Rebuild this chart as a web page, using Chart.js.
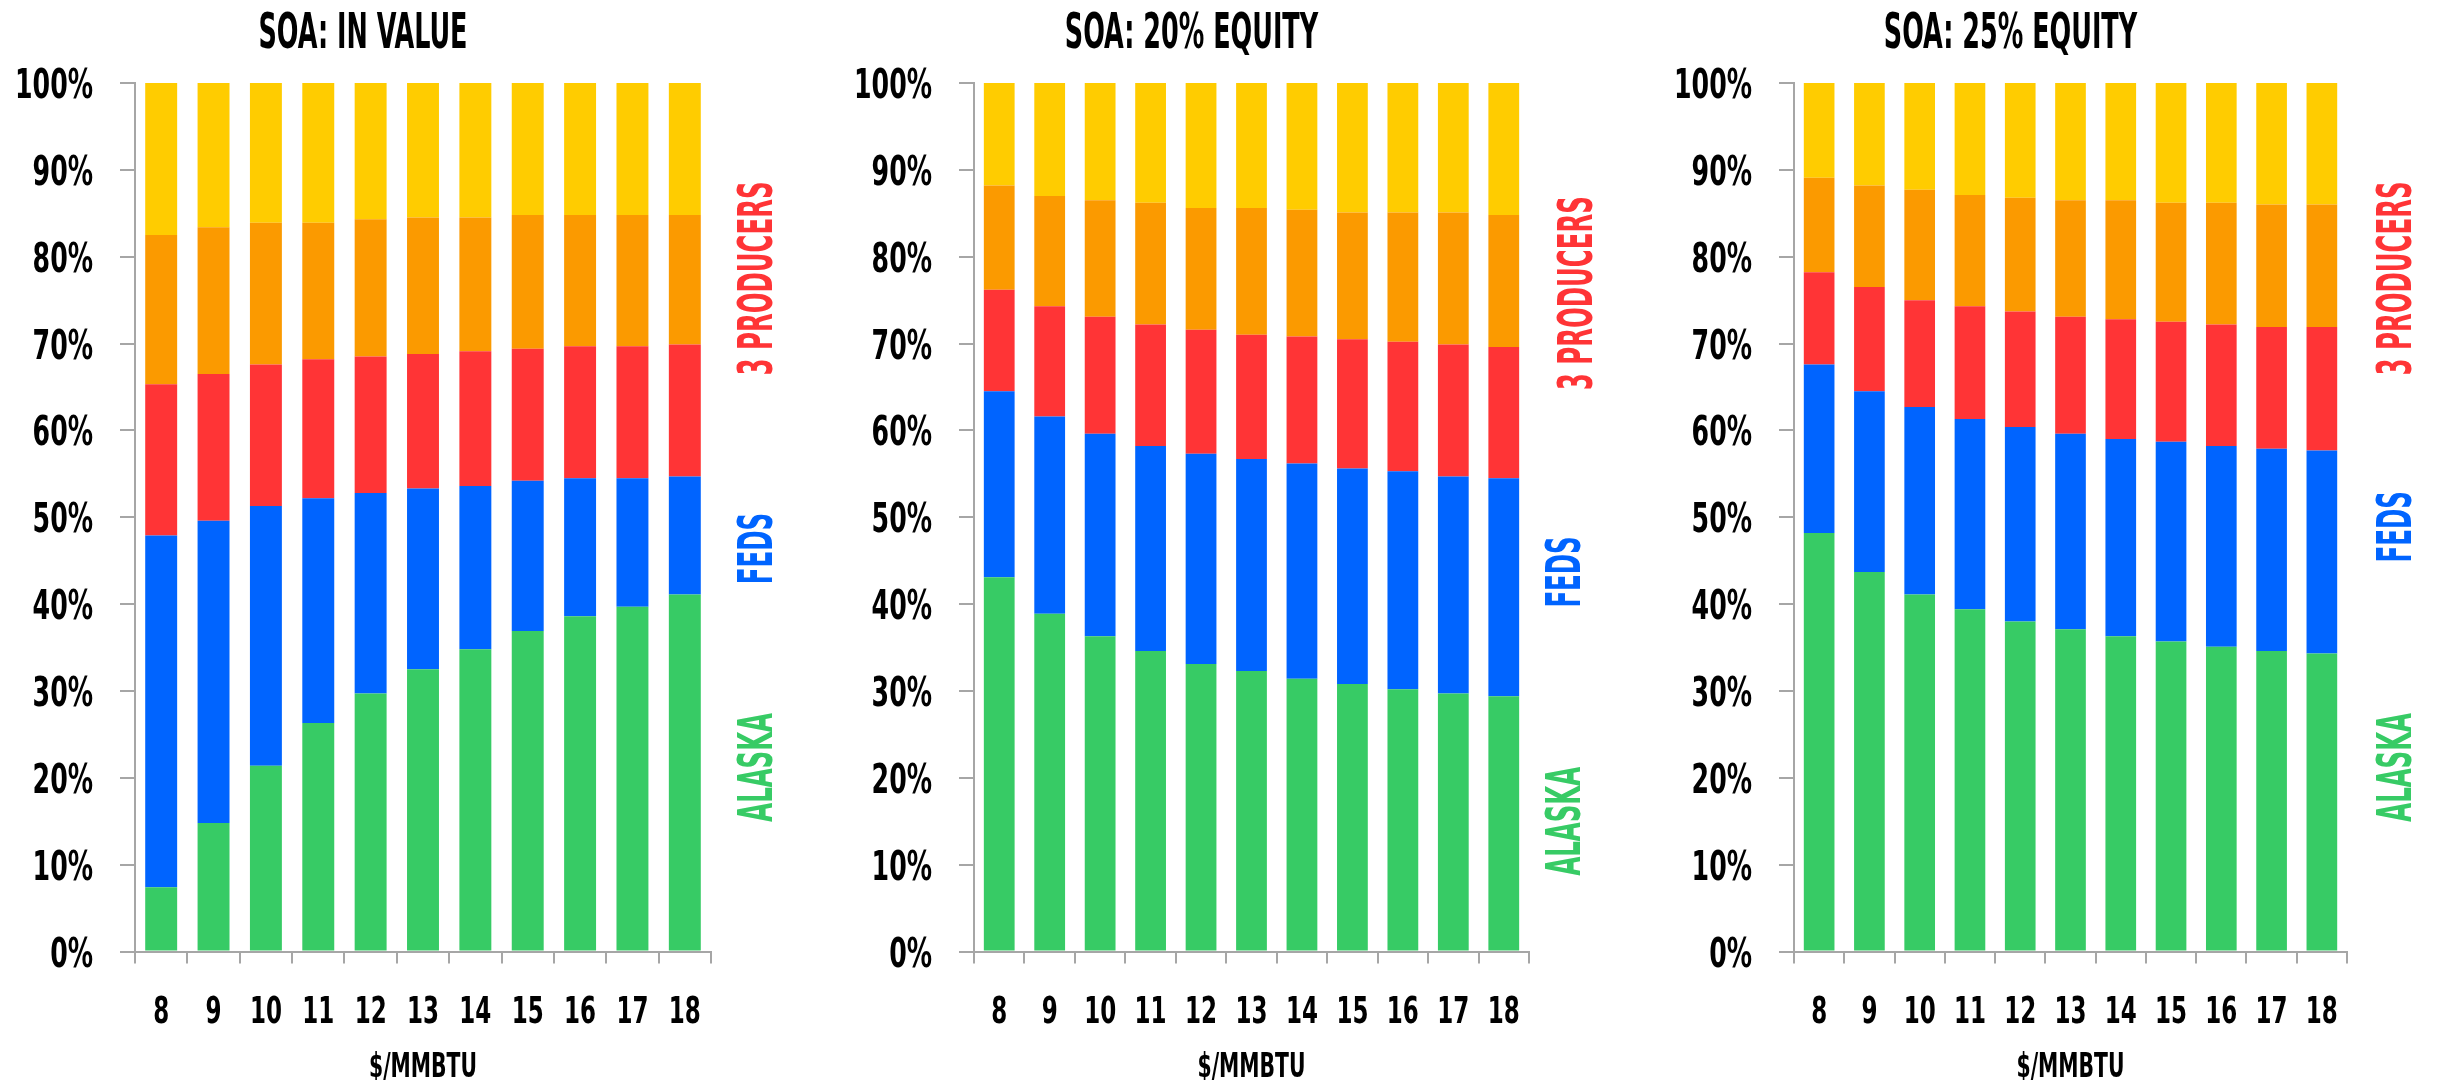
<!DOCTYPE html>
<html>
<head>
<meta charset="utf-8">
<script src="https://cdn.jsdelivr.net/npm/chart.js@4.4.1/dist/chart.umd.min.js"></script>
<style>
    html, body { margin: 0; padding: 0; background: #fff; }
    #wrap { position: relative; width: 2438px; height: 1080px; overflow: hidden; }
    canvas { position: absolute; top: 0; }
</style>
</head>
<body>
<div id="wrap">
    <canvas id="chart-value" width="812" height="1080" style="left:0px"></canvas>
    <canvas id="chart-eq20" width="818" height="1080" style="left:812px"></canvas>
    <canvas id="chart-eq25" width="808" height="1080" style="left:1630px"></canvas>
</div>
<script>
'use strict';

var prices = ['8', '9', '10', '11', '12', '13', '14', '15', '16', '17', '18'];
var seriesNames = ['Alaska', 'Feds', 'Producer 1', 'Producer 2', 'Producer 3'];
var seriesColors = ['#37cb65', '#0064ff', '#ff3436', '#fb9a00', '#ffcc00'];
var panelTitles = ['SOA: IN VALUE', 'SOA: 20% EQUITY', 'SOA: 25% EQUITY'];
var sideLabels = ['3 PRODUCERS', 'FEDS', 'ALASKA'];
var sideColors = ['#ff3436', '#0064ff', '#37cb65'];
var xAxisTitle = '$/MMBTU';

var valueAlaska = [7.4, 14.8, 21.4, 26.3, 29.7, 32.5, 34.8, 36.9, 38.6, 39.7, 41.1];
var valueFeds = [40.5, 34.8, 29.9, 25.9, 23.1, 20.8, 18.8, 17.3, 15.9, 14.8, 13.6];
var valueProd1 = [17.4, 16.9, 16.3, 16.0, 15.7, 15.5, 15.5, 15.2, 15.2, 15.2, 15.2];
var valueProd2 = [17.2, 16.9, 16.3, 15.7, 15.8, 15.7, 15.4, 15.4, 15.1, 15.1, 14.9];
var valueProd3 = [17.5, 16.6, 16.1, 16.1, 15.7, 15.5, 15.5, 15.2, 15.2, 15.2, 15.2];

var eq20Alaska = [43.1, 38.9, 36.3, 34.6, 33.1, 32.3, 31.4, 30.8, 30.2, 29.7, 29.4];
var eq20Feds = [21.4, 22.7, 23.3, 23.6, 24.2, 24.4, 24.8, 24.8, 25.1, 25.0, 25.1];
var eq20Prod1 = [11.7, 12.7, 13.5, 14.0, 14.3, 14.3, 14.6, 14.9, 14.9, 15.2, 15.1];
var eq20Prod2 = [12.0, 12.7, 13.4, 14.0, 14.0, 14.6, 14.6, 14.6, 14.9, 15.2, 15.2];
var eq20Prod3 = [11.8, 13.0, 13.5, 13.8, 14.4, 14.4, 14.6, 14.9, 14.9, 14.9, 15.2];

var eq25Alaska = [48.2, 43.7, 41.1, 39.4, 38.0, 37.1, 36.3, 35.7, 35.1, 34.6, 34.3];
var eq25Feds = [19.4, 20.8, 21.6, 21.9, 22.4, 22.5, 22.7, 23.0, 23.1, 23.3, 23.4];
var eq25Prod1 = [10.6, 12.0, 12.3, 13.0, 13.3, 13.5, 13.8, 13.8, 14.0, 14.0, 14.2];
var eq25Prod2 = [10.9, 11.7, 12.7, 12.8, 13.1, 13.4, 13.7, 13.7, 14.0, 14.1, 14.1];
var eq25Prod3 = [10.9, 11.8, 12.3, 12.9, 13.2, 13.5, 13.5, 13.8, 13.8, 14.0, 14.0];

const FONT = "'DejaVu Sans Condensed', 'Liberation Sans Narrow', sans-serif";
const AXIS_GREY = '#a6a6a6';

function fontOf(size) {
    return 'bold ' + size + 'px ' + FONT;
}

// horizontal squeeze that makes `sample` exactly `width` px wide at `size`
function squeezeFor(ctx, sample, size, width) {
    ctx.save();
    ctx.font = fontOf(size);
    var w = ctx.measureText(sample).width;
    ctx.restore();
    return width / w;
}

function drawSqueezed(ctx, text, x, y, size, color, rotation, sx, align) {
    ctx.save();
    ctx.translate(x, y);
    ctx.rotate(rotation);
    ctx.scale(sx, 1);
    ctx.font = fontOf(size);
    ctx.fillStyle = color;
    ctx.textAlign = align || 'center';
    ctx.textBaseline = 'alphabetic';
    ctx.fillText(text, 0, 0);
    ctx.restore();
}

// condensed texts: title, tick labels, axis title and the series names
const panelText = {
    id: 'panelText',
    afterDraw: function (chart, args, opts) {
        const ctx = chart.ctx;
        const area = chart.chartArea;
        const xScale = chart.scales.x;
        const yScale = chart.scales.y;

        var sxTitle = squeezeFor(ctx, panelTitles[0], 49, 209);
        drawSqueezed(ctx, opts.title, (yScale.left + area.right) / 2, 48, 49, '#000', 0, sxTitle);

        var sxY = squeezeFor(ctx, '100%', 41, 78);
        yScale.ticks.forEach(function (tick, i) {
            var y = yScale.getPixelForTick(i);
            drawSqueezed(ctx, tick.label, yScale.right - 15 - 27, y + 15, 41, '#000', 0, sxY, 'right');
        });

        var sxX = squeezeFor(ctx, '18', 38, 32);
        xScale.ticks.forEach(function (tick, i) {
            var x = xScale.getPixelForTick(i);
            drawSqueezed(ctx, tick.label, x, area.bottom + 71.5, 38, '#000', 0, sxX);
        });

        var sxAxis = squeezeFor(ctx, xAxisTitle, 33, 108);
        drawSqueezed(ctx, xAxisTitle, (area.left + area.right) / 2, 1077, 33, '#000', 0, sxAxis);

        var sxSide = squeezeFor(ctx, sideLabels[0], 48, 194);
        sideLabels.forEach(function (label, i) {
            drawSqueezed(
                ctx,
                label,
                area.right + opts.offsets[i],
                yScale.getPixelForValue(opts.anchors[i]),
                48,
                sideColors[i],
                -Math.PI / 2,
                sxSide
            );
        });
    },
};

function makeChart(canvasId, title, seriesData, padLeft, padRight, offsets, anchors) {
    var datasets = seriesData.map(function (values, i) {
        return {
            label: seriesNames[i],
            data: values,
            backgroundColor: seriesColors[i],
            borderWidth: 0,
            barPercentage: 1,
            categoryPercentage: 0.61,
        };
    });

    return new Chart(document.getElementById(canvasId), {
        type: 'bar',
        data: {
            labels: prices,
            datasets: datasets,
        },
        options: {
            responsive: false,
            animation: false,
            devicePixelRatio: 1,
            layout: {
                padding: { top: 83, left: padLeft, right: padRight, bottom: 0 },
            },
            scales: {
                x: {
                    stacked: true,
                    afterFit: function (scale) {
                        scale.height = 128.5;
                    },
                    grid: {
                        display: true,
                        offset: true,
                        drawOnChartArea: false,
                        drawTicks: true,
                        tickLength: 12,
                        color: AXIS_GREY,
                        lineWidth: 2,
                    },
                    border: { display: true, color: AXIS_GREY, width: 2 },
                    ticks: {
                        color: 'rgba(0,0,0,0)',
                        maxRotation: 0,
                        autoSkip: false,
                        font: { family: FONT, size: 20, weight: 'bold' },
                    },
                },
                y: {
                    stacked: true,
                    min: 0,
                    max: 100,
                    afterFit: function (scale) {
                        scale.width = 120;
                    },
                    grid: {
                        display: true,
                        drawOnChartArea: false,
                        drawTicks: true,
                        tickLength: 15,
                        color: AXIS_GREY,
                        lineWidth: 2,
                    },
                    border: { display: true, color: AXIS_GREY, width: 2 },
                    ticks: {
                        stepSize: 10,
                        color: 'rgba(0,0,0,0)',
                        font: { family: FONT, size: 20, weight: 'bold' },
                        callback: function (value) {
                            return value + '%';
                        },
                    },
                },
            },
            plugins: {
                legend: { display: false },
                tooltip: { enabled: false },
                panelText: { title: title, offsets: offsets, anchors: anchors },
            },
        },
        plugins: [panelText],
    });
}

makeChart(
    'chart-value',
    panelTitles[0],
    [valueAlaska, valueFeds, valueProd1, valueProd2, valueProd3],
    15, 101,
    [61, 61, 61],
    [77.5, 46.4, 21.2]
);
makeChart(
    'chart-eq20',
    panelTitles[1],
    [eq20Alaska, eq20Feds, eq20Prod1, eq20Prod2, eq20Prod3],
    42, 101,
    [63, 51, 51],
    [75.8, 43.7, 15.0]
);
makeChart(
    'chart-eq25',
    panelTitles[2],
    [eq25Alaska, eq25Feds, eq25Prod1, eq25Prod2, eq25Prod3],
    44, 91,
    [64, 64, 64],
    [77.5, 48.9, 21.2]
);
</script>
</body>
</html>
